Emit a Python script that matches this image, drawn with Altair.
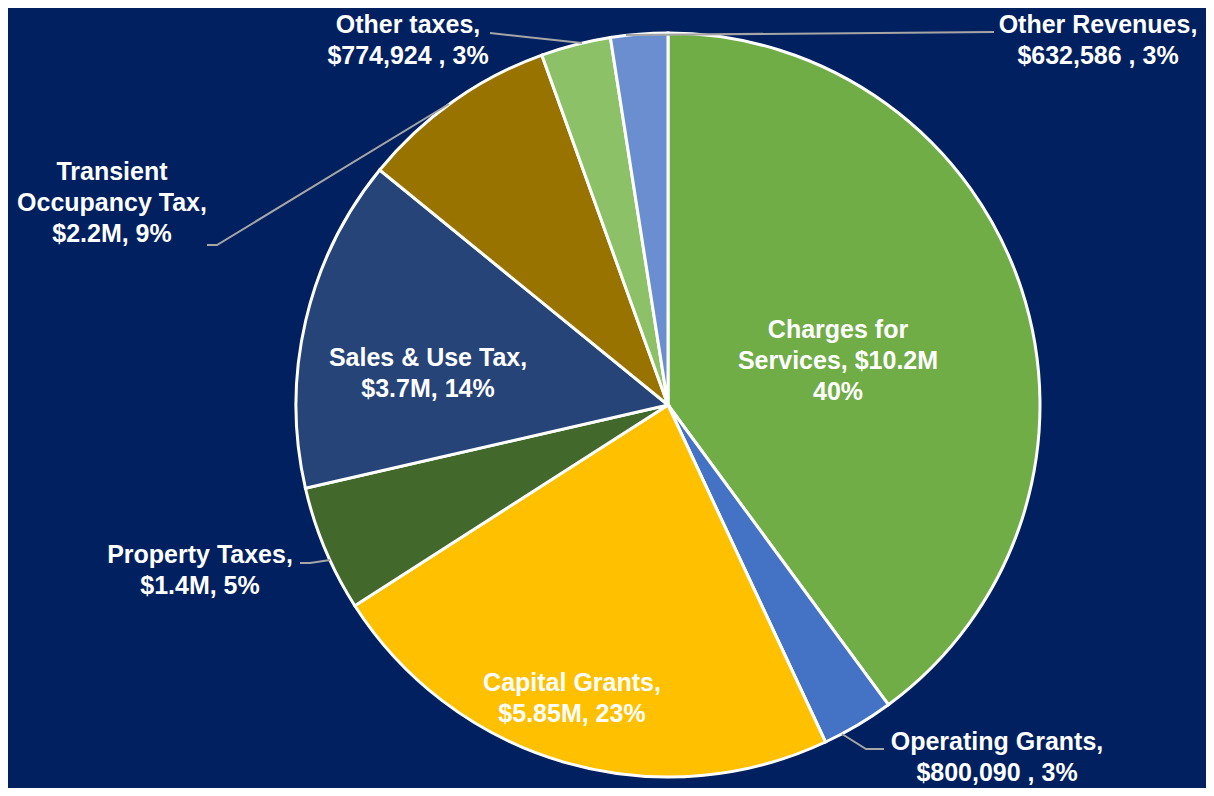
import altair as alt
import pandas as pd

# ---- data ----
categories = ["Charges for Services", "Operating Grants", "Capital Grants", "Property Taxes",
              "Sales & Use Tax", "Transient Occupancy Tax", "Other taxes", "Other Revenues"]
amounts = [10200000, 800090, 5850000, 1400000, 3700000, 2200000, 774924, 632586]
label_texts = [
    "Charges for\nServices, $10.2M\n40%",
    "Operating  Grants,\n$800,090 , 3%",
    "Capital  Grants,\n$5.85M, 23%",
    "Property  Taxes,\n$1.4M, 5%",
    "Sales & Use Tax,\n$3.7M, 14%",
    "Transient\nOccupancy  Tax,\n$2.2M, 9%",
    "Other taxes,\n$774,924 , 3%",
    "Other Revenues,\n$632,586 , 3%",
]

# ---- styles / layout ----
colors = ["#70AD47", "#4472C4", "#FFC000", "#43682B", "#264478", "#997300", "#8CC168", "#6A8ED0"]
BG = "#002060"
W, H = 1198, 780
CX, CY, R = 660, 397, 372

# position of the first line of each label
label_x = [830, 989, 564, 192, 420, 104, 400, 1090]
label_y = [322, 734, 675, 547, 350, 164, 17, 17]

leader_id = ["op", "op", "op", "prop", "prop", "prop", "tot", "tot", "tot", "otax", "otax", "orev", "orev"]
leader_x = [834, 858, 876, 292, 302, 322, 199, 209, 441, 482, 574, 618, 986]
leader_y = [726, 741, 741, 555, 555, 552, 237, 237, 96, 25, 35, 27, 24]

df = pd.DataFrame({
    "category": categories,
    "amount": amounts,
    "idx": list(range(len(categories))),
})
lab = pd.DataFrame({"text": label_texts, "lx": label_x, "ly": label_y})
lead = pd.DataFrame({"id": leader_id, "x": leader_x, "y": leader_y,
                     "o": list(range(len(leader_id)))})

pie = alt.Chart(df).mark_arc(outerRadius=R, stroke="white", strokeWidth=3).encode(
    theta=alt.Theta("amount:Q", stack=True),
    order=alt.Order("idx:Q"),
    color=alt.Color("category:N", scale=alt.Scale(domain=categories, range=colors), legend=None),
    x=alt.value(CX),
    y=alt.value(CY),
)

lines = alt.Chart(lead).mark_line(color="#A6A6A6", strokeWidth=2).encode(
    x=alt.X("x:Q", scale=None),
    y=alt.Y("y:Q", scale=None),
    detail="id:N",
    order="o:Q",
)

labels = alt.Chart(lab).mark_text(
    font="Liberation Sans", fontWeight="bold", fontSize=25, color="white",
    lineBreak="\n", lineHeight=31, align="center", baseline="middle",
).encode(
    x=alt.X("lx:Q", scale=None),
    y=alt.Y("ly:Q", scale=None),
    text="text:N",
)

chart = alt.layer(pie, lines, labels).properties(
    width=W, height=H, padding=0, background=BG,
    autosize=alt.AutoSizeParams(type="fit", contains="padding"),
).configure_view(stroke=None)

chart.save("out.html", embed_options={"renderer": "svg", "actions": False})
